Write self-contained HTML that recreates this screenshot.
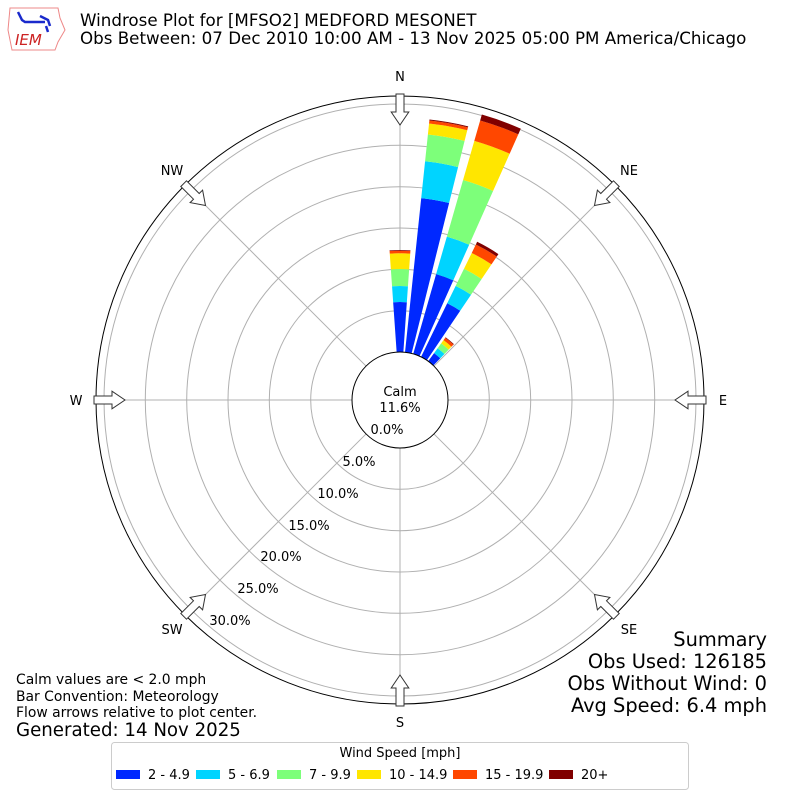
<!DOCTYPE html><html><head><meta charset="utf-8"><style>
body{margin:0;background:#fff}
svg text{font-family:"DejaVu Sans","Liberation Sans",sans-serif}
</style></head><body>
<svg id="s" width="800" height="800" xmlns="http://www.w3.org/2000/svg">
<rect width="800" height="800" fill="#fff"/>
<g id="grid" fill="none" stroke="#b0b0b0" stroke-width="1">
<circle cx="400" cy="400" r="89.3"/><circle cx="400" cy="400" r="130.7"/><circle cx="400" cy="400" r="172"/>
<circle cx="400" cy="400" r="213.3"/><circle cx="400" cy="400" r="254.7"/><circle cx="400" cy="400" r="296"/>
</g>
<g id="bars"></g>
<circle cx="400" cy="400" r="48" fill="#fff" stroke="#000" stroke-width="1"/>
<circle cx="400" cy="400" r="304" fill="none" stroke="#000" stroke-width="1"/>
<g id="arrows" fill="#fff" stroke="#333" stroke-width="1"></g>
<g font-size="13" fill="#000" text-anchor="middle">
<text x="400" y="81">N</text><text x="629" y="175">NE</text><text x="723" y="405">E</text><text x="629" y="634">SE</text>
<text x="400" y="727">S</text><text x="172" y="634">SW</text><text x="76" y="405">W</text><text x="172" y="175">NW</text>
<text x="400" y="396">Calm</text><text x="400" y="412">11.6%</text>
<text x="387" y="434">0.0%</text><text x="359" y="466">5.0%</text><text x="338" y="498">10.0%</text><text x="309" y="530">15.0%</text>
<text x="281" y="561">20.0%</text><text x="258" y="593">25.0%</text><text x="230" y="625">30.0%</text>
</g>
<g font-size="16.7" fill="#000">
<text x="80" y="26">Windrose Plot for [MFSO2] MEDFORD MESONET</text>
<text x="80" y="44">Obs Between: 07 Dec 2010 10:00 AM - 13 Nov 2025 05:00 PM America/Chicago</text>
</g>
<g font-size="19.4" fill="#000" text-anchor="end">
<text x="767" y="646">Summary</text><text x="767" y="668">Obs Used: 126185</text>
<text x="767" y="690">Obs Without Wind: 0</text><text x="767" y="712">Avg Speed: 6.4 mph</text>
</g>
<g font-size="13.9" fill="#000">
<text x="16" y="684">Calm values are &lt; 2.0 mph</text><text x="16" y="701">Bar Convention: Meteorology</text>
<text x="16" y="717">Flow arrows relative to plot center.</text>
<text x="16" y="736" font-size="18.2">Generated: 14 Nov 2025</text>
</g>
<rect x="111.5" y="742.5" width="577" height="47" rx="3" fill="#fff" stroke="#ccc"/>
<text x="400" y="757" font-size="13" text-anchor="middle">Wind Speed [mph]</text>
<g font-size="13">
<rect x="116" y="770" width="24" height="9" fill="#0028ff"/><text x="148" y="779">2 - 4.9</text>
<rect x="196" y="770" width="24" height="9" fill="#00d4ff"/><text x="228" y="779">5 - 6.9</text>
<rect x="277" y="770" width="24" height="9" fill="#7dff7a"/><text x="309" y="779">7 - 9.9</text>
<rect x="357" y="770" width="24" height="9" fill="#ffe600"/><text x="389" y="779">10 - 14.9</text>
<rect x="453" y="770" width="24" height="9" fill="#ff4700"/><text x="485" y="779">15 - 19.9</text>
<rect x="549" y="770" width="24" height="9" fill="#800000"/><text x="581" y="779">20+</text>
</g>
<g>
<path d="M10 8 L58 8 L60 18 L65 30 L58 42 L55 50 L12 50 L8 30 Z" fill="none" stroke="#e88" stroke-width="1"/>
<path d="M18 12 L22 20 L25 22 L45 22 M40 16 L48 20 L50 26 M46 26 L48 32" stroke="#1a2acc" stroke-width="2.5" fill="none"/>
<text x="15" y="45" font-family="Liberation Serif,serif" font-style="italic" font-size="15" fill="#c22">IEM</text>
</g>
</svg>
<script>
var C=["#0028ff","#00d4ff","#7dff7a","#ffe600","#ff4700","#800000"];
var data=[[0,[98,114,131,146.7,149.3,150]],[10,[203,240,267,278,281,282]],[20,[131,170,228.8,269.6,290.8,297]],[30,[107.7,127,146,163.6,173,176]],[40,[58,64,70,74,77,77.6]]];
function pt(r,a){a=a*Math.PI/180;return (400+r*Math.sin(a)).toFixed(2)+","+(400-r*Math.cos(a)).toFixed(2);}
function sec(r0,r1,a,w){var a0=a-w,a1=a+w;return "M"+pt(r0,a0)+"L"+pt(r1,a0)+"A"+r1+","+r1+" 0 0 1 "+pt(r1,a1)+"L"+pt(r0,a1)+"A"+r0+","+r0+" 0 0 0 "+pt(r0,a0)+"Z";}
var h="";
for(var a=0;a<360;a+=45)h+='<line x1="'+pt(48,a).split(",")[0]+'" y1="'+pt(48,a).split(",")[1]+'" x2="'+pt(304,a).split(",")[0]+'" y2="'+pt(304,a).split(",")[1]+'" stroke="#b0b0b0"/>';
data.forEach(function(d){var r0=48;d[1].forEach(function(r,i){if(r>r0)h+='<path d="'+sec(r0,r,d[0],4)+'" fill="'+C[i]+'"/>';r0=r;});});
document.getElementById("bars").innerHTML=h;
var g="";
for(var a=0;a<360;a+=45){
 var p=[[306,-1.0],[288,-1.0],[288,-2.2],[275,0],[288,2.2],[288,1.0],[306,1.0]];
 var s=p.map(function(q){var dr=q[0],off=q[1]*4;var ang=a*Math.PI/180;var x=400+dr*Math.sin(ang)+off*Math.cos(ang),y=400-dr*Math.cos(ang)+off*Math.sin(ang);return x.toFixed(1)+","+y.toFixed(1);}).join(" ");
 g+='<polygon points="'+s+'"/>';}
document.getElementById("arrows").innerHTML=g;
</script>
</body></html>
